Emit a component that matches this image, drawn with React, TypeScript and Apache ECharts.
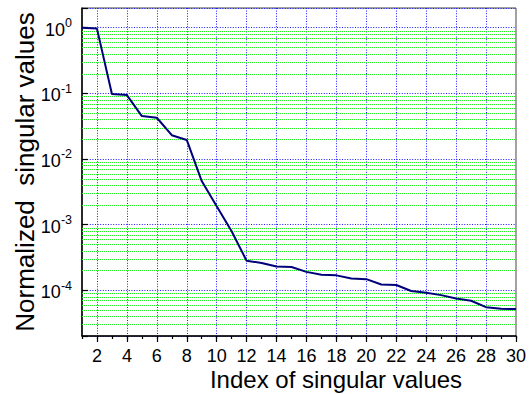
import React, { useEffect, useRef } from "react";
import * as echarts from "echarts";

const indexLabels = [
  "1", "2", "3", "4", "5", "6", "7", "8", "9", "10",
  "11", "12", "13", "14", "15", "16", "17", "18", "19", "20",
  "21", "22", "23", "24", "25", "26", "27", "28", "29", "30",
];

const singularValues = [
  1.0, 0.97, 0.098, 0.094, 0.045, 0.0425, 0.023, 0.0195, 0.0046, 0.0019,
  0.00079, 0.00028, 0.00026, 0.00023, 0.000225, 0.00019, 0.000172, 0.000168, 0.00015, 0.000147,
  0.000122, 0.00012, 0.000097, 0.000091, 0.000084, 0.0000745, 0.000069, 0.000055, 0.000052, 0.0000515,
];

const yMin = 2e-5;
const yMax = 2;
const minorDecades = [1e-5, 1e-4, 1e-3, 1e-2, 1e-1];
const minorMultipliers = [2, 3, 4, 5, 6, 7, 8, 9];

const xTitle = "Index of singular values";
const yTitle = "Normalized  singular values";

const FONT = '"Liberation Sans", Arial, Helvetica, sans-serif';

export default function App() {
  const ref = useRef<HTMLDivElement>(null);

  useEffect(() => {
    if (!ref.current) return;
    const chart = echarts.init(ref.current, null, { renderer: "svg" });

    const minorValues: number[][] = [];
    minorDecades.forEach((d) => {
      minorMultipliers.forEach((m) => {
        const v = d * m;
        if (v > yMin * 1.0001 && v < yMax) minorValues.push([0, v]);
      });
    });

    const blueGrid = { color: "#1a1aff", width: 1, type: [1, 1.6] as any };

    chart.setOption({
      animation: false,
      backgroundColor: "#ffffff",
      textStyle: { fontFamily: FONT },
      grid: {
        left: 82,
        right: 13,
        top: 8,
        bottom: 58,
        show: true,
        borderColor: "#444",
        borderWidth: 1,
        containLabel: false,
      },
      xAxis: [
        {
          type: "category",
          data: indexLabels,
          boundaryGap: false,
          position: "bottom",
          axisLine: { show: true, lineStyle: { color: "#000", width: 1.5 } },
          axisTick: { show: true, interval: 0, length: 3, lineStyle: { color: "#000", width: 1.2 } },
          axisLabel: {
            show: true,
            interval: (i: number) => i % 2 === 1,
            fontSize: 18,
            color: "#000",
            fontFamily: FONT,
            margin: 11,
          },
          splitLine: {
            show: true,
            interval: (i: number) => i % 2 === 1 && i < indexLabels.length - 1,
            lineStyle: blueGrid,
          },
        },
        {
          type: "category",
          data: indexLabels,
          boundaryGap: false,
          position: "bottom",
          axisLine: { show: false },
          axisTick: {
            show: true,
            interval: (i: number) => i % 2 === 1,
            length: 6,
            lineStyle: { color: "#000", width: 1.2 },
          },
          axisLabel: { show: false },
          splitLine: { show: false },
        },
      ],
      yAxis: {
        type: "log",
        logBase: 10,
        min: yMin,
        max: yMax,
        axisLine: { show: true, lineStyle: { color: "#000", width: 1.5 } },
        axisTick: { show: true, inside: true, length: 6, lineStyle: { color: "#000", width: 1.2 } },
        axisLabel: {
          margin: 10,
          color: "#000",
          formatter: (v: number) => {
            const l = Math.log10(v);
            const e = Math.round(l);
            if (Math.abs(l - e) > 1e-6) return "";
            return "{b|10}{s|" + e + "}";
          },
          rich: {
            b: { fontSize: 18, fontFamily: FONT, color: "#000", lineHeight: 22, verticalAlign: "bottom" },
            s: { fontSize: 12.5, fontFamily: FONT, color: "#000", lineHeight: 22, verticalAlign: "top", padding: [0, 0, 6, 0] },
          },
        },
        splitLine: { show: true, lineStyle: blueGrid },
      },
      series: [
        {
          type: "custom",
          silent: true,
          z: 1,
          clip: true,
          encode: { x: 0, y: 1 },
          data: minorValues,
          renderItem: (params: any, api: any) => {
            const cs = params.coordSys;
            const p = api.coord([0, api.value(1)]);
            const y = Math.round(p[1]) + 0.5;
            return {
              type: "line",
              shape: { x1: cs.x, y1: y, x2: cs.x + cs.width, y2: y },
              style: { stroke: "#22f522", lineWidth: 1, lineDash: [1, 1] },
            };
          },
        },
        {
          type: "line",
          data: singularValues,
          showSymbol: false,
          symbol: "none",
          z: 5,
          lineStyle: { color: "#00007a", width: 2 },
          itemStyle: { color: "#00007a" },
        },
      ],
      graphic: [
        {
          type: "text",
          x: 25,
          y: 172,
          rotation: Math.PI / 2,
          style: {
            text: yTitle,
            fontSize: 26,
            fontFamily: FONT,
            fill: "#000",
            align: "center",
            verticalAlign: "middle",
          },
        },
        {
          type: "text",
          x: 336,
          y: 379,
          style: {
            text: xTitle,
            fontSize: 24,
            fontFamily: FONT,
            fill: "#000",
            align: "center",
            verticalAlign: "middle",
          },
        },
      ],
    });

    return () => {
      chart.dispose();
    };
  }, []);

  return (
    <div
      ref={ref}
      style={{ position: "fixed", left: 0, top: 0, width: 529, height: 394, background: "#fff" }}
    />
  );
}
